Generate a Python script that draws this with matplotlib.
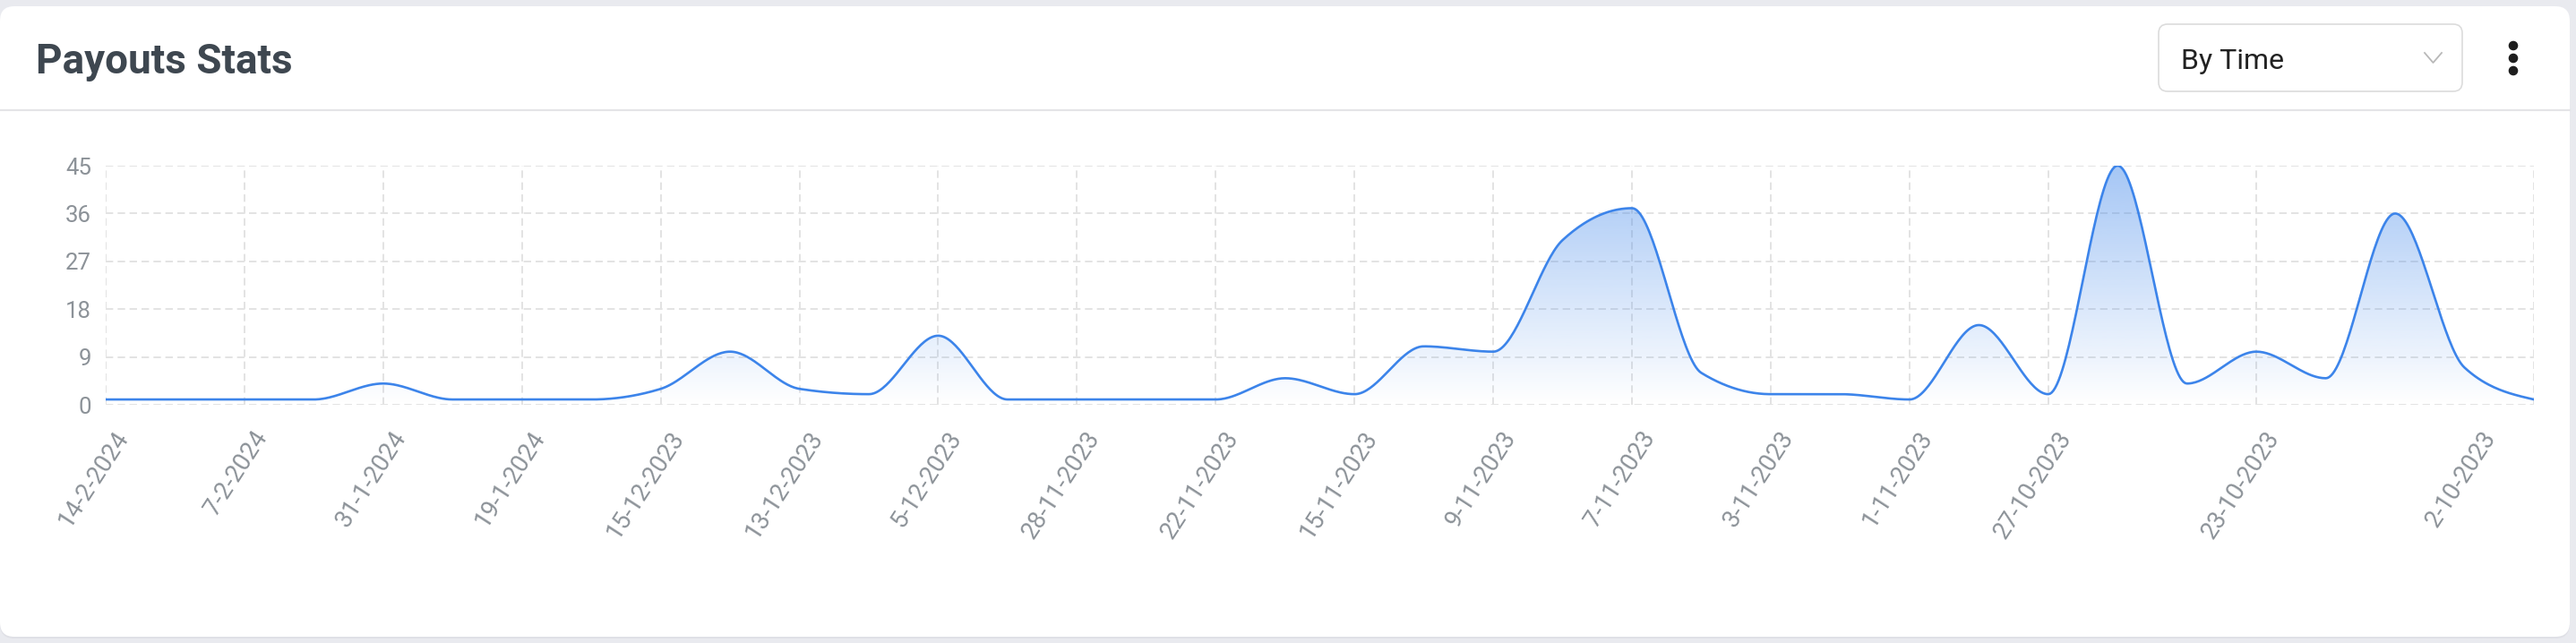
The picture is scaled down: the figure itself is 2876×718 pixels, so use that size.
"""
Payouts Stats - area chart (smooth line, gradient fill)
"""

import numpy as np
import matplotlib
matplotlib.use("Agg")
import matplotlib.pyplot as plt
from matplotlib.patches import FancyBboxPatch, Polygon, Circle
from matplotlib.transforms import ScaledTranslation

plt.rcParams['font.family'] = ['Roboto', 'DejaVu Sans']
plt.rcParams['lines.scale_dashes'] = False

# data (newest first, as in the chart)
payouts = [1, 1, 1, 1, 4, 1, 1, 1, 3, 10, 3, 2, 13, 1, 1, 1, 1, 5, 2, 11,
           10, 31, 37, 6, 2, 2, 1, 15, 2, 45, 4, 10, 5, 36, 7, 1]
tick_idx = [0, 2, 4, 6, 8, 10, 12, 14, 16, 18, 20, 22, 24, 26, 28, 31, 35]
tick_labels = ["14-2-2024", "7-2-2024", "31-1-2024", "19-1-2024", "15-12-2023",
               "13-12-2023", "5-12-2023", "28-11-2023", "22-11-2023", "15-11-2023",
               "9-11-2023", "7-11-2023", "3-11-2023", "1-11-2023", "27-10-2023",
               "23-10-2023", "2-10-2023"]
y_ticks = [0, 9, 18, 27, 36, 45]

W, H = 2876, 718
line_color = '#3c84ea'
grid_color = '#e3e3e3'
label_color = '#8c9298'


def monotone_curve(y, n=40):
    # monotone cubic (d3 curveMonotoneX), x step = 1
    y = np.asarray(y, float)
    s = np.diff(y)
    t = np.zeros(len(y))
    for i in range(1, len(y) - 1):
        s0, s1 = s[i - 1], s[i]
        p = (s0 + s1) / 2
        sg0 = -1 if s0 < 0 else 1
        sg1 = -1 if s1 < 0 else 1
        t[i] = (sg0 + sg1) * min(abs(s0), abs(s1), 0.5 * abs(p))
    t[0] = (3 * s[0] - t[1]) / 2
    t[-1] = (3 * s[-1] - t[-2]) / 2
    u = np.linspace(0, 1, n, endpoint=False)
    h00 = 2 * u**3 - 3 * u**2 + 1
    h10 = u**3 - 2 * u**2 + u
    h01 = -2 * u**3 + 3 * u**2
    h11 = u**3 - u**2
    xs, ys = [], []
    for i in range(len(y) - 1):
        xs.append(i + u)
        ys.append(h00 * y[i] + h10 * t[i] + h01 * y[i + 1] + h11 * t[i + 1])
    xs.append([len(y) - 1])
    ys.append([y[-1]])
    return np.concatenate(xs), np.concatenate(ys)


fig = plt.figure(figsize=(W / 100, H / 100), dpi=100)
fig.patch.set_facecolor('#e9eaef')

# card / header (pixel coordinates)
bg = fig.add_axes([0, 0, 1, 1])
bg.set_xlim(0, W)
bg.set_ylim(H, 0)
bg.axis('off')
bg.add_patch(FancyBboxPatch((0, 9), 2869, 704, boxstyle="round,pad=0,rounding_size=16",
                            fc='#dfe0e6', ec='none'))
bg.add_patch(FancyBboxPatch((0, 7), 2869, 704, boxstyle="round,pad=0,rounding_size=16",
                            fc='white', ec='none'))
bg.plot([0, 2869], [123, 123], color='#e4e4e7', lw=1.5)
bg.text(40, 82, "Payouts Stats", fontsize=33, fontweight='bold', color='#3e4750',
        va='baseline', ha='left')
bg.add_patch(FancyBboxPatch((2410, 27), 339, 75, boxstyle="round,pad=0,rounding_size=10",
                            fc='white', ec='#dcdcdc', lw=1.2))
bg.text(2435, 77, "By Time", fontsize=23, color='#222222', va='baseline', ha='left')
bg.plot([2707, 2716.5, 2726], [59, 70, 59], color='#b8b8b8', lw=1.3)
for yy in [51, 65, 79]:
    bg.add_patch(Circle((2806, yy), 4.6, color='#1e1e1e'))

# chart
ax = fig.add_axes([118 / W, 1 - 452 / H, (2829 - 118) / W, (452 - 185) / H])
ax.set_facecolor('none')
xs, ys = monotone_curve(payouts)

# gradient fill clipped to the area under the curve
grad = np.zeros((256, 2, 4))
rgb = np.array(matplotlib.colors.to_rgb(line_color))
grad[:, :, :3] = rgb
grad[:, :, 3] = np.linspace(0.46, 0.0, 256)[:, None]
im = ax.imshow(grad, extent=(0, len(payouts) - 1, 0, 45), origin='upper',
               aspect='auto', zorder=1, interpolation='bilinear')
verts = np.vstack([np.column_stack([xs, ys]), [[xs[-1], 0], [xs[0], 0]]])
clip = Polygon(verts, closed=True, transform=ax.transData)
im.set_clip_path(clip)

ax.plot(xs, ys, color=line_color, lw=1.9, zorder=3, solid_capstyle='round')

ax.set_xlim(0, len(payouts) - 1)
ax.set_ylim(0, 45)
ax.set_yticks(y_ticks)
ax.set_xticks(tick_idx)
ax.set_xticklabels(tick_labels, rotation=57, ha='right', va='center',
                   rotation_mode='anchor', fontsize=19.5, color=label_color)
ax.set_yticklabels([str(v) for v in y_ticks], fontsize=18.5, color=label_color)
ax.tick_params(axis='x', length=0, pad=23)
ax.tick_params(axis='y', length=0, pad=11.5)
ax.grid(True, color=grid_color, lw=1.4, linestyle=(0, (6, 3.6)), zorder=0)
ax.set_axisbelow(True)
for sp in ax.spines.values():
    sp.set_visible(False)

labels = ax.get_xticklabels()
for i, lab in enumerate(labels):
    dx = 20 if i < len(labels) - 1 else -48
    lab.set_transform(lab.get_transform() + ScaledTranslation(dx / 100, 0, fig.dpi_scale_trans))

fig.savefig('out.png', dpi=100, facecolor=fig.get_facecolor())
